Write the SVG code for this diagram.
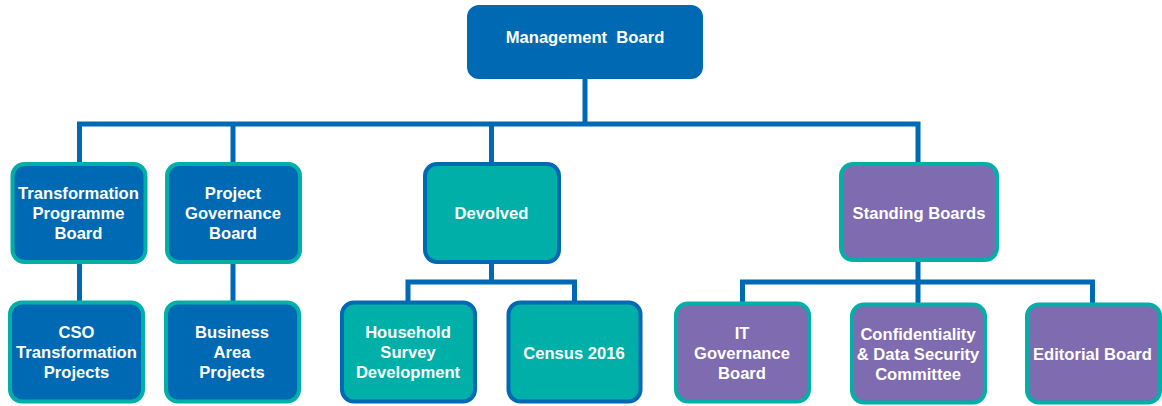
<svg xmlns="http://www.w3.org/2000/svg" width="1162" height="406" viewBox="0 0 1162 406">
<style>
.blue{fill:#0069B4;stroke:#00AFA8;stroke-width:4}
.top{fill:#0069B4;stroke:#0069B4;stroke-width:2}
.teal{fill:#00AFA8;stroke:#0069B4;stroke-width:4}
.purple{fill:#7F6BB0;stroke:#00AFA8;stroke-width:4}
text{font-family:"Liberation Sans",Arial,sans-serif;font-weight:bold;font-size:16.6px;fill:#ffffff;text-anchor:middle}
.conn{fill:none;stroke:#0069B4;stroke-width:5;stroke-linejoin:miter}
</style>
<g id="connectors" class="conn">
<path d="M585,79 V124"/>
<path d="M79.5,163 V124 H918 V163"/>
<path d="M233,124 V163"/>
<path d="M491.5,124 V163"/>
<path d="M79.5,264 V301"/>
<path d="M233,264 V301"/>
<path d="M491.5,264 V282"/>
<path d="M408,301 V282 H574.5 V301"/>
<path d="M918,262 V303"/>
<path d="M742.5,303 V282 H1092.5 V303"/>
</g>
<g id="management-board">
<rect class="top" x="468" y="6" width="234" height="72" rx="11"/>
<text x="585" y="43" xml:space="preserve">Management  Board</text>
</g>
<g id="transformation-programme-board">
<rect class="blue" x="12.5" y="164" width="133" height="98" rx="12"/>
<text x="78.5" y="199">Transformation</text>
<text x="78.5" y="219">Programme</text>
<text x="78.5" y="239">Board</text>
</g>
<g id="project-governance-board">
<rect class="blue" x="167" y="164" width="133" height="98" rx="12"/>
<text x="233" y="199">Project</text>
<text x="233" y="219">Governance</text>
<text x="233" y="239">Board</text>
</g>
<g id="devolved">
<rect class="teal" x="425" y="164" width="134" height="98" rx="12"/>
<text x="491.5" y="219">Devolved</text>
</g>
<g id="standing-boards">
<rect class="purple" x="841" y="164" width="156" height="96" rx="12"/>
<text x="919" y="219">Standing Boards</text>
</g>
<g id="cso-transformation-projects">
<rect class="blue" x="10" y="302.5" width="133" height="99" rx="12"/>
<text x="76.5" y="338">CSO</text>
<text x="76.5" y="358">Transformation</text>
<text x="76.5" y="378">Projects</text>
</g>
<g id="business-area-projects">
<rect class="blue" x="166" y="302.5" width="133" height="99" rx="12"/>
<text x="232" y="338">Business</text>
<text x="232" y="358">Area</text>
<text x="232" y="378">Projects</text>
</g>
<g id="household-survey-development">
<rect class="teal" x="342" y="302.5" width="133" height="99" rx="12"/>
<text x="408" y="338">Household</text>
<text x="408" y="358">Survey</text>
<text x="408" y="378">Development</text>
</g>
<g id="census-2016">
<rect class="teal" x="508.5" y="302.5" width="132" height="99" rx="12"/>
<text x="574" y="359">Census 2016</text>
</g>
<g id="it-governance-board">
<rect class="purple" x="676" y="303.5" width="133" height="98" rx="12"/>
<text x="742" y="339">IT</text>
<text x="742" y="359">Governance</text>
<text x="742" y="379">Board</text>
</g>
<g id="confidentiality-data-security-committee">
<rect class="purple" x="852" y="304.5" width="133" height="98" rx="12"/>
<text x="918" y="340">Confidentiality</text>
<text x="918" y="360">&amp; Data Security</text>
<text x="918" y="380">Committee</text>
</g>
<g id="editorial-board">
<rect class="purple" x="1027" y="304.5" width="133" height="98" rx="12"/>
<text x="1092.5" y="360">Editorial Board</text>
</g>
</svg>
